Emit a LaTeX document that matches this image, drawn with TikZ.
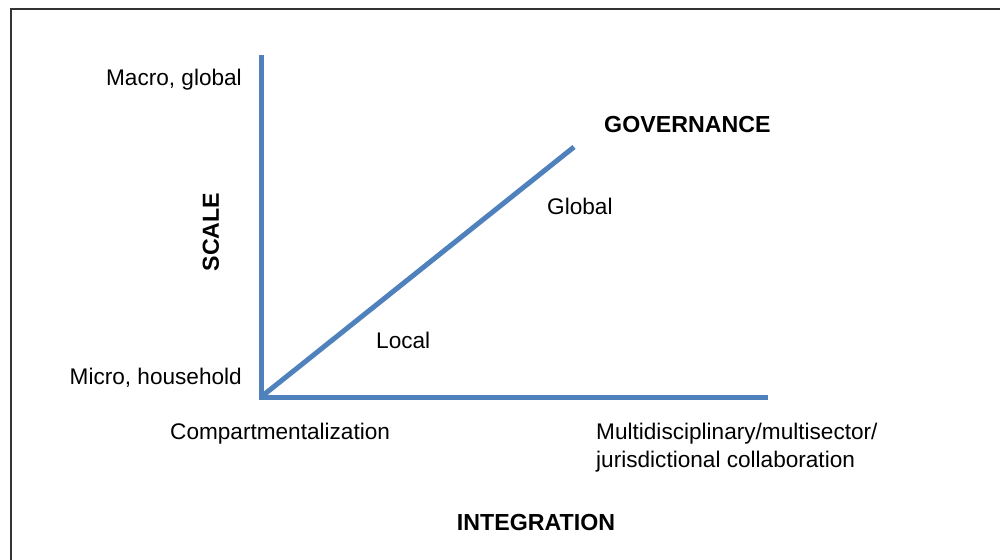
\documentclass[tikz,border=0pt]{standalone}
\usepackage{fontspec}
\setmainfont{Liberation Sans}
\definecolor{axisblue}{HTML}{4F81BD}
\definecolor{framegray}{HTML}{333333}
\begin{document}
\begin{tikzpicture}[x=1pt,y=-1pt,
  lbl/.style={font=\fontsize{22.6}{28}\selectfont, inner sep=0pt, text=black},
  bold/.style={lbl, font=\fontsize{23.2}{28}\selectfont\bfseries},
  axis/.style={draw=axisblue, line width=5pt},
  frame/.style={draw=framegray, line width=2pt}]
\useasboundingbox (0,0) rectangle (1000,559);
\coordinate (ftr) at (1001,9);
\coordinate (ftl) at (11,9);
\coordinate (fbl) at (11,560);
\draw[frame] (ftr) -- (ftl) -- (fbl);
\coordinate (top) at (261,55);
\coordinate (origin) at (261,397);
\coordinate (right) at (768,397);
\coordinate (gov) at (574,147);
\draw[axis] (top) -- (origin |- 0,399.5);
\draw[axis] (258.5,397) -- (right);
\draw[axis] (origin) -- (gov);
\node[lbl, anchor=east] (macro) at (242,80) {Macro, global};
\node[lbl, anchor=east] (micro) at (242,378) {Micro, household};
\node[lbl, anchor=west] (comp) at (170,434) {Compartmentalization};
\node[lbl, anchor=west, align=left] (multi) at (596,448) {Multidisciplinary/multisector/\\jurisdictional collaboration};
\node[bold] (integ) at (536,523) {INTEGRATION};
\node[bold, rotate=90] (scale) at (211,232) {SCALE};
\node[bold, anchor=west] (govl) at (604,125) {GOVERNANCE};
\node[lbl, anchor=west] (glob) at (547,206) {Global};
\node[lbl, anchor=west] (loc) at (376,340) {Local};
\end{tikzpicture}
\end{document}
